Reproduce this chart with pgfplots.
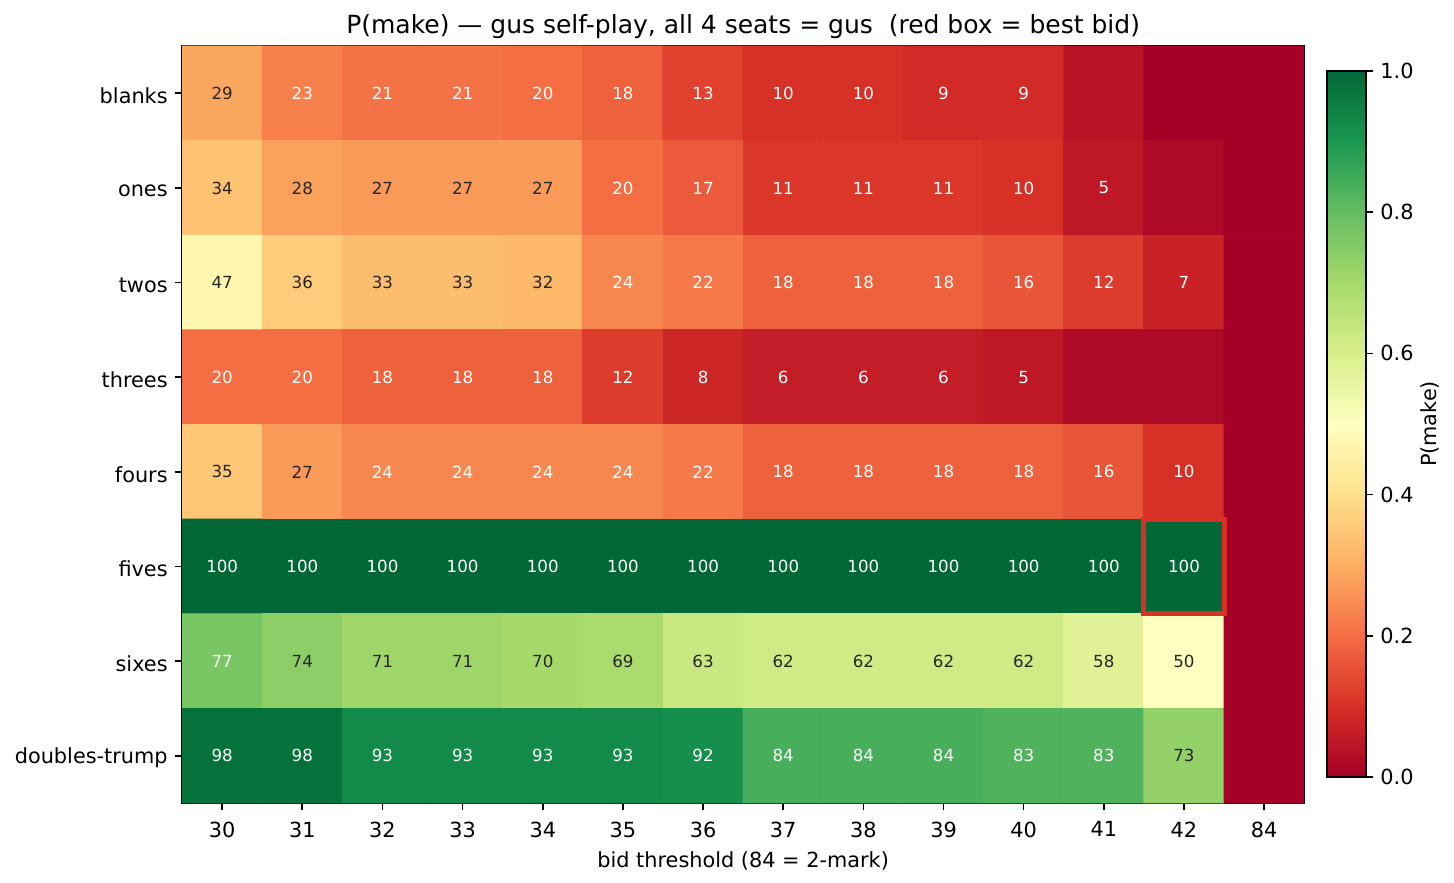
\documentclass[border=0pt]{standalone}
\usepackage{pgfplots}
\usepackage{pgfplotstable}
\pgfplotsset{compat=1.18}
\usepackage{fontspec}
\setmainfont{DejaVu Sans}
\definecolor{darktext}{RGB}{38,38,38}
\definecolor{boxred}{RGB}{215,48,39}

\pgfplotstableread{
x y v
0 0 29
1 0 23
2 0 21
3 0 21
4 0 20
5 0 18
6 0 13
7 0 10
8 0 10
9 0 9
10 0 9
11 0 4
12 0 0
13 0 0
0 1 34
1 1 28
2 1 27
3 1 27
4 1 27
5 1 20
6 1 17
7 1 11
8 1 11
9 1 11
10 1 10
11 1 5
12 1 1.8
13 1 0
0 2 47
1 2 36
2 2 33
3 2 33
4 2 32
5 2 24
6 2 22
7 2 18
8 2 18
9 2 18
10 2 16
11 2 12
12 2 7
13 2 0
0 3 20
1 3 20
2 3 18
3 3 18
4 3 18
5 3 12
6 3 8
7 3 6
8 3 6
9 3 6
10 3 5
11 3 2.3
12 3 1.8
13 3 0
0 4 35
1 4 27
2 4 24
3 4 24
4 4 24
5 4 24
6 4 22
7 4 18
8 4 18
9 4 18
10 4 18
11 4 16
12 4 10
13 4 0
0 5 100
1 5 100
2 5 100
3 5 100
4 5 100
5 5 100
6 5 100
7 5 100
8 5 100
9 5 100
10 5 100
11 5 100
12 5 100
13 5 0
0 6 77
1 6 74
2 6 71
3 6 71
4 6 70
5 6 69
6 6 63
7 6 62
8 6 62
9 6 62
10 6 62
11 6 58
12 6 50
13 6 0
0 7 98
1 7 98
2 7 93
3 7 93
4 7 93
5 7 93
6 7 92
7 7 84
8 7 84
9 7 84
10 7 83
11 7 83
12 7 73
13 7 0
}\heat

\pgfplotsset{
  rdylgn/.style={colormap={RdYlGn}{rgb255=(165,0,38) rgb255=(215,48,39) rgb255=(244,109,67) rgb255=(253,174,97) rgb255=(254,224,139) rgb255=(255,255,191) rgb255=(217,239,139) rgb255=(166,217,106) rgb255=(102,189,99) rgb255=(26,152,80) rgb255=(0,104,55)}},
  celllabel/.style={only marks, mark=*, mark size=0pt, mark options={draw=none, fill=none},
    point meta=\thisrow{v},
    nodes near coords,
    every node near coord/.append style={anchor=center, font=\fontsize{8}{9.6}\selectfont, inner sep=0pt, text=#1},
  },
}

\begin{document}
\begin{tikzpicture}
\begin{axis}[
  at={(87.4pt,37.9pt)}, anchor=south west,
  scale only axis, width=538.6pt, height=363.4pt,
  xmin=-0.5, xmax=13.5, ymin=-0.5, ymax=7.5, y dir=reverse,
  xtick={0,...,13}, xticklabels={30,31,32,33,34,35,36,37,38,39,40,41,42,84},
  ytick={0,...,7}, yticklabels={blanks,ones,twos,threes,fours,fives,sixes,doubles-trump},
  tick pos=left, tick align=outside, major tick length=3.4pt,
  tick style={black, line width=0.8pt},
  axis line style={line width=0.8pt},
  ticklabel style={font=\fontsize{10}{12}\selectfont},
  xticklabel style={yshift=-2pt},
  yticklabel style={yshift=-1.2pt},
  /pgf/number format/assume math mode=true,
  rdylgn,
  point meta min=0, point meta max=1,
  title={P(make) — gus self-play, all 4 seats = gus \ (red box = best bid)},
  title style={font=\fontsize{12}{14.4}\selectfont, at={(0.5,1)}, anchor=base, yshift=0pt},
  xlabel={bid threshold (84 = 2-mark)},
  xlabel style={font=\fontsize{10}{12}\selectfont},
]
\addplot[matrix plot*, mesh/cols=14, mesh/rows=8, point meta=\thisrow{v}/100] table[x=x, y=y] {\heat};
\addplot[celllabel=white, restrict expr to domain={\thisrow{v}}{4.5:24.9}] table[x=x, y=y] {\heat};
\addplot[celllabel=darktext, restrict expr to domain={\thisrow{v}}{25:75}] table[x=x, y=y] {\heat};
\addplot[celllabel=white, restrict expr to domain={\thisrow{v}}{75.1:101}] table[x=x, y=y] {\heat};
\addplot[draw=boxred, line width=2.4pt, line cap=rect, mark=none] coordinates {(11.5,4.5) (12.5,4.5) (12.5,5.5) (11.5,5.5) (11.5,4.5)};
\end{axis}
% colorbar
\begin{axis}[
  at={(636.96pt,50.4pt)}, anchor=south west,
  scale only axis, width=18.7pt, height=338.9pt,
  xmin=0, xmax=1, ymin=0, ymax=1,
  xtick=\empty,
  ytick={0,0.2,0.4,0.6,0.8,1.0},
  ytick pos=right, yticklabel pos=right,
  tick align=outside, major tick length=3.4pt,
  tick style={black, line width=0.8pt},
  axis line style={line width=0.8pt},
  axis on top,
  yticklabel style={font=\fontsize{10}{12}\selectfont, /pgf/number format/.cd, fixed, fixed zerofill, precision=1, assume math mode=true},
  ylabel={P(make)},
  every axis y label/.style={at={(axis description cs:1,0.5)}, anchor=center, xshift=30.7pt, rotate=90, font=\fontsize{10}{12}\selectfont},
  rdylgn,
  point meta min=0, point meta max=1,
]
\addplot[surf, shader=interp, mesh/rows=11, mesh/cols=2, point meta=y] coordinates {
(0,0) (1,0)
(0,0.1) (1,0.1)
(0,0.2) (1,0.2)
(0,0.3) (1,0.3)
(0,0.4) (1,0.4)
(0,0.5) (1,0.5)
(0,0.6) (1,0.6)
(0,0.7) (1,0.7)
(0,0.8) (1,0.8)
(0,0.9) (1,0.9)
(0,1) (1,1)
};
\end{axis}
\pgfresetboundingbox
\useasboundingbox (0,0) rectangle (697.92pt,423.36pt);
\end{tikzpicture}
\end{document}
